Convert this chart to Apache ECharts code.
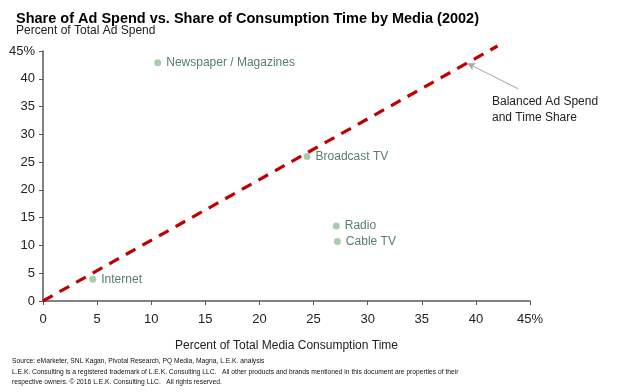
<!DOCTYPE html>
<html><head><meta charset="utf-8">
<script src="https://cdn.jsdelivr.net/npm/echarts@6/dist/echarts.min.js"></script>
<style>html,body{margin:0;padding:0;background:#fff}#c{width:618px;height:392px}</style>
</head><body><div id="c"></div>
<script>
const mediaNames = ["Newspaper / Magazines", "Broadcast TV", "Radio", "Cable TV", "Internet"];
const consumptionShare = [10.6, 24.4, 27.1, 27.2, 4.6];
const adSpendShare = [42.9, 26.0, 13.5, 10.7, 3.9];
const balanceLineX = [0, 42];
const balanceLineY = [0, 45.9];
const arrowFrom = [43.9, 38.2];
const arrowTo = [39.2, 42.8];

const chart = echarts.init(document.getElementById('c'), null, {renderer:'canvas'});
const F = "Arial, 'Liberation Sans', sans-serif";
chart.setOption({
  animation:false,
  backgroundColor:'#fff',
  title:[
    {text:'Share of Ad Spend vs. Share of Consumption Time by Media (2002)', left:11, top:6,
     textStyle:{fontFamily:F, fontWeight:'bold', fontSize:14.5, color:'#000'}},
    {text:'Percent of Total Ad Spend', left:11, top:20,
     textStyle:{fontFamily:F, fontWeight:'normal', fontSize:12, color:'#222'}}
  ],
  grid:{left:43, right:88, top:51, bottom:91, containLabel:false},
  xAxis:{type:'value', min:0, max:45, interval:5,
    name:'Percent of Total Media Consumption Time', nameLocation:'middle', nameGap:39,
    nameTextStyle:{fontFamily:F, fontSize:12, color:'#222'},
    axisLine:{lineStyle:{color:'#595959', width:1.5}},
    axisTick:{show:true, length:4, lineStyle:{color:'#595959'}},
    splitLine:{show:false},
    axisLabel:{fontFamily:F, fontSize:13, color:'#222', margin:12,
      formatter:v=> v===45 ? '45%' : String(v)}},
  yAxis:{type:'value', min:0, max:45, interval:5,
    axisLine:{show:true, lineStyle:{color:'#595959', width:1.5}},
    axisTick:{show:true, length:4, lineStyle:{color:'#595959'}},
    splitLine:{show:false},
    axisLabel:{fontFamily:F, fontSize:13, color:'#222', margin:8,
      formatter:v=> v===45 ? '45%' : String(v)}},
  series:[
    {type:'line', data:balanceLineX.map((x,i)=>[x,balanceLineY[i]]), clip:false, symbol:'none',
     lineStyle:{color:'#c00000', width:3.2, type:[11,8]}, z:2,
     markLine:{silent:true, symbol:['none','arrow'], symbolSize:[6,8],
       lineStyle:{color:'#a6a6a6', width:1, type:'solid'}, label:{show:false},
       data:[[{coord:arrowFrom},{coord:arrowTo}]]}},
    {type:'scatter', data:consumptionShare.map((x,i)=>[x,adSpendShare[i],mediaNames[i]]),
     symbolSize:7, itemStyle:{color:'#93bf98'}, z:3,
     label:{show:true, position:'right', distance:5, formatter:p=>p.data[2],
       fontFamily:F, fontSize:12, color:'#2b5d4c'}}
  ],
  graphic:[
    {type:'text', left:492, top:94, style:{text:'Balanced Ad Spend\nand Time Share', font:'12px '+F, fill:'#222', lineHeight:16}},
    {type:'text', left:12, top:356, style:{text:'Source: eMarketer, SNL Kagan, Pivotal Research, PQ Media, Magna, L.E.K. analysis\nL.E.K. Consulting is a registered trademark of L.E.K. Consulting LLC.   All other products and brands mentioned in this document are properties of their\nrespective owners. © 2016 L.E.K. Consulting LLC.   All rights reserved.',
      font:"6.7px "+F, fill:'#111', lineHeight:10.5}}
  ]
});
</script></body></html>
